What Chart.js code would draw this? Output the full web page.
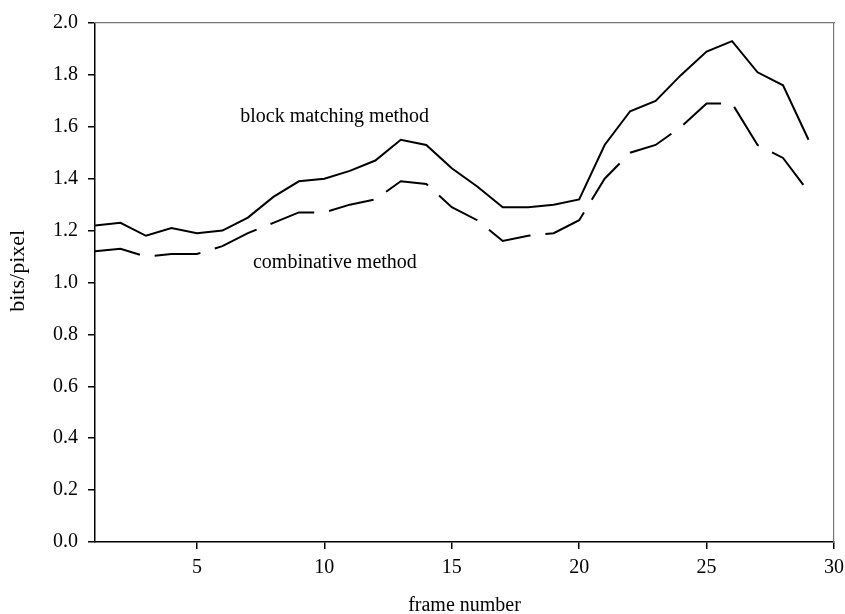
<!DOCTYPE html>
<html>
<head>
<meta charset="utf-8">
<script src="https://cdn.jsdelivr.net/npm/chart.js@4/dist/chart.umd.min.js"></script>
<style>
  html, body { margin: 0; padding: 0; background: #fff; }
  canvas { display: block; }
</style>
</head>
<body>
<canvas id="chart" width="845" height="614"></canvas>
<script>
// Frame index along the sequence
const frames = [1, 2, 3, 4, 5, 6, 7, 8, 9, 10, 11, 12, 13, 14, 15, 16, 17, 18, 19, 20, 21, 22, 23, 24, 25, 26, 27, 28, 29];

// Coding cost (bits/pixel) per frame
const blockMatching = [1.22, 1.23, 1.18, 1.21, 1.19, 1.20, 1.25, 1.33, 1.39, 1.40, 1.43, 1.47, 1.55, 1.53, 1.44,
                       1.37, 1.29, 1.29, 1.30, 1.32, 1.53, 1.66, 1.70, 1.80, 1.89, 1.93, 1.81, 1.76, 1.55];
const combinative   = [1.12, 1.13, 1.10, 1.11, 1.11, 1.14, 1.19, 1.23, 1.27, 1.27, 1.30, 1.32, 1.39, 1.38, 1.29,
                       1.24, 1.16, 1.18, 1.19, 1.24, 1.40, 1.50, 1.53, 1.60, 1.69, 1.69, 1.53, 1.48, 1.35];

// Axis ticks
const xTickValues = [5, 10, 15, 20, 25, 30];
const yTickValues = [0.0, 0.2, 0.4, 0.6, 0.8, 1.0, 1.2, 1.4, 1.6, 1.8, 2.0];

// In-plot series labels: [text, frame, bits/pixel]
const seriesLabels = [
  ['block matching method', 6.7, 1.64],
  ['combinative method', 7.2, 1.075]
];
const yTitle = 'bits/pixel';
const xTitle = 'frame number';

const SERIF = '"Liberation Serif", "Times New Roman", serif';

const toPoints = (ys) => frames.map((f, i) => ({ x: f, y: ys[i] }));

// Series labels and the rotated y-axis title
const textPlugin = {
  id: 'plotText',
  afterDraw(chart) {
    const { ctx, scales } = chart;
    ctx.save();
    ctx.fillStyle = '#000';
    ctx.font = '20px ' + SERIF;
    ctx.textAlign = 'left';
    ctx.textBaseline = 'middle';
    seriesLabels.forEach(([txt, fx, fy]) => {
      ctx.fillText(txt, scales.x.getPixelForValue(fx), scales.y.getPixelForValue(fy));
    });
    ctx.font = '22px ' + SERIF;
    ctx.translate(18, scales.y.getPixelForValue(1.045));
    ctx.rotate(-Math.PI / 2);
    ctx.textAlign = 'center';
    ctx.fillText(yTitle, 0, 0);
    ctx.restore();
  }
};

new Chart(document.getElementById('chart'), {
  type: 'scatter',
  data: {
    datasets: [
      {
        label: 'block matching method',
        data: toPoints(blockMatching),
        showLine: true,
        borderColor: '#000',
        borderWidth: 2,
        pointRadius: 0,
        tension: 0
      },
      {
        label: 'combinative method',
        data: toPoints(combinative),
        showLine: true,
        borderColor: '#000',
        borderWidth: 2,
        borderDash: [46, 15],
        pointRadius: 0,
        tension: 0
      }
    ]
  },
  options: {
    responsive: false,
    devicePixelRatio: 1,
    animation: false,
    layout: { padding: { top: 23, right: 11, left: 0, bottom: 0 } },
    plugins: {
      legend: { display: false },
      tooltip: { enabled: false }
    },
    scales: {
      x: {
        type: 'linear',
        position: 'bottom',
        min: 1,
        max: 30,
        afterBuildTicks: (s) => { s.ticks = xTickValues.map(v => ({ value: v })); },
        afterFit: (s) => { s.height = 72; s.paddingLeft = 0; s.paddingRight = 0; },
        ticks: {
          color: '#000',
          font: { family: SERIF, size: 20 },
          padding: 7,
          maxRotation: 0
        },
        grid: { display: true, drawOnChartArea: false, drawTicks: true, tickLength: 7, color: '#000', lineWidth: 1.5 },
        border: { display: true, color: '#000', width: 1.5 },
        title: {
          display: true,
          text: xTitle,
          color: '#000',
          font: { family: SERIF, size: 20, lineHeight: 0.8 },
          padding: { top: 0, bottom: 0 }
        }
      },
      y: {
        type: 'linear',
        position: 'left',
        min: 0,
        max: 2,
        afterBuildTicks: (s) => { s.ticks = yTickValues.map(v => ({ value: v })); },
        afterFit: (s) => { s.width = 95; s.paddingTop = 0; s.paddingBottom = 0; },
        ticks: {
          color: '#000',
          font: { family: SERIF, size: 20 },
          padding: 10,
          callback: (v) => Number(v).toFixed(1)
        },
        grid: { display: true, drawOnChartArea: false, drawTicks: true, tickLength: 7, color: '#000', lineWidth: 1.5 },
        border: { display: true, color: '#000', width: 1.5 }
      },
      xTop: {
        type: 'linear',
        position: 'top',
        min: 1,
        max: 30,
        afterFit: (s) => { s.height = 0; },
        ticks: { display: false },
        grid: { display: false },
        border: { display: true, color: '#777', width: 1.2 }
      },
      yRight: {
        type: 'linear',
        position: 'right',
        min: 0,
        max: 2,
        afterFit: (s) => { s.width = 0; },
        ticks: { display: false },
        grid: { display: false },
        border: { display: true, color: '#777', width: 1.2 }
      }
    }
  },
  plugins: [textPlugin]
});
</script>
</body>
</html>
